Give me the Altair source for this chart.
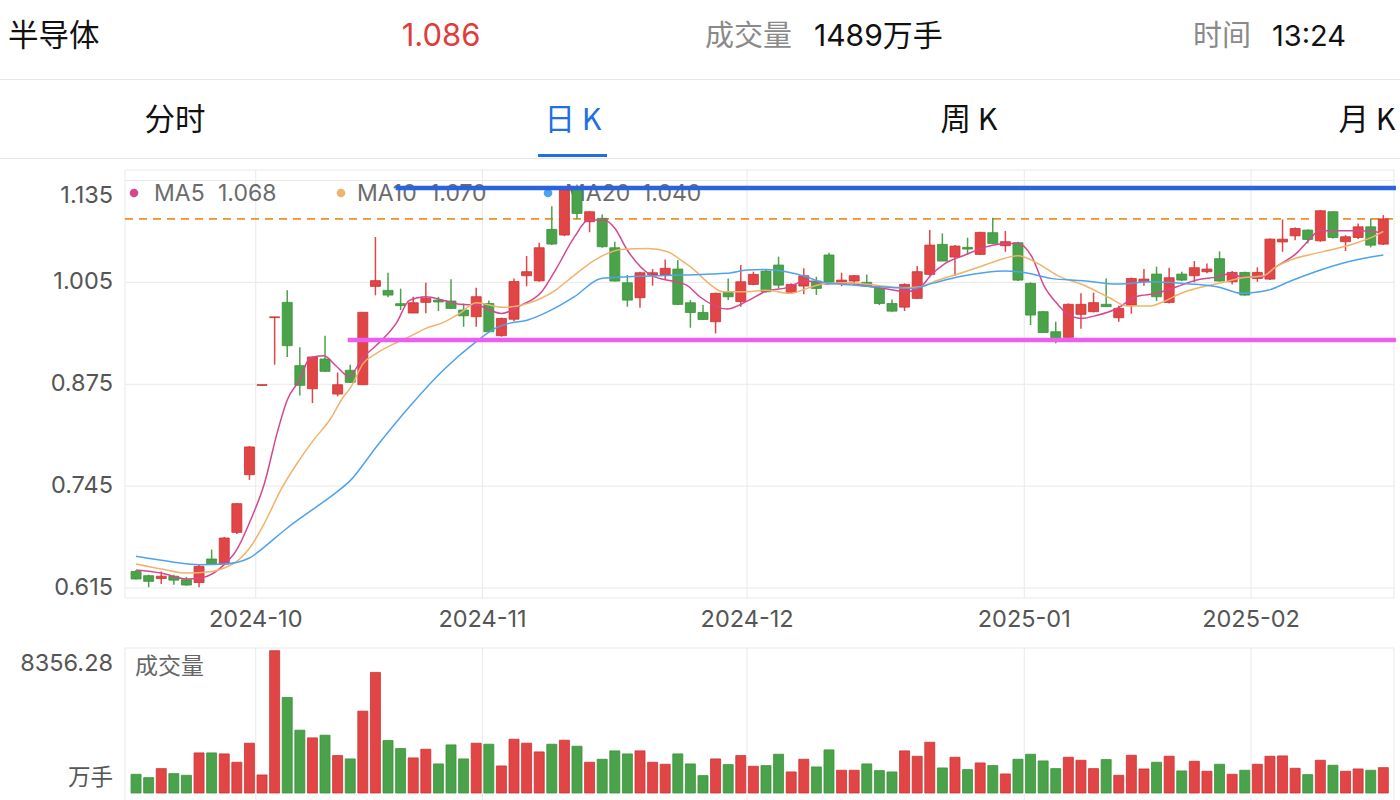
import altair as alt
import pandas as pd

# ---------------- data ----------------
opens = [0.636, 0.6307, 0.627, 0.630, 0.6256, 0.622, 0.652, 0.6456, 0.686, 0.7596,
         0.8735, 0.960, 0.9795, 0.8987, 0.8693, 0.9072, 0.8625, 0.8928, 0.8744, 0.9999,
         0.9948, 0.9778, 0.9659, 0.9795, 0.9823, 0.9812, 0.9697, 0.9612, 0.9781, 0.937,
         0.958, 1.0135, 1.007, 1.0726, 1.0654, 1.124, 1.0824, 1.0867, 1.0492, 1.0045,
         0.9854, 1.0144, 1.0144, 1.022, 0.979, 0.9666, 0.9548, 0.9921, 0.9804, 1.0024,
         1.0194, 1.0271, 0.992, 1.0003, 1.0067, 1.0399, 1.0037, 1.0067, 1.005, 0.9973,
         0.978, 0.9734, 0.9846, 1.0152, 1.0535, 1.0373, 1.0496, 1.0407, 1.0684, 1.0518,
         1.0556, 1.0037, 0.9676, 0.942, 0.9348, 0.9642, 0.9676, 0.977, 0.9599, 0.976,
         1.0058, 1.0156, 0.9794, 1.0156, 1.0135, 1.0186, 1.0352, 1.0058, 1.0177, 1.010,
         1.0092, 1.0566, 1.0644, 1.0717, 1.0581, 1.0951, 1.0569, 1.0623, 1.0759, 1.0538]
highs = [0.638, 0.632, 0.636, 0.632, 0.629, 0.645, 0.664, 0.680, 0.7235, 0.796,
         0.8745, 0.961, 0.9948, 0.9221, 0.9106, 0.937, 0.890, 0.900, 0.967, 1.0629,
         1.0173, 0.997, 0.9866, 1.0045, 0.9866, 1.009, 0.978, 0.998, 0.982, 0.960,
         1.010, 1.0386, 1.0556, 1.1023, 1.125, 1.130, 1.096, 1.0917, 1.0568, 1.0143,
         1.0186, 1.022, 1.0343, 1.0335, 0.9824, 0.976, 0.9919, 1.010, 1.0271, 1.0186,
         1.0216, 1.0378, 1.0037, 1.023, 1.0122, 1.0429, 1.0173, 1.0143, 1.0152, 1.0015,
         0.9833, 1.0037, 1.0259, 1.0718, 1.0675, 1.0526, 1.062, 1.0697, 1.0875, 1.0705,
         1.0569, 1.005, 0.9684, 0.9548, 0.9782, 0.991, 0.9918, 1.010, 0.9752, 1.011,
         1.022, 1.025, 1.0237, 1.0186, 1.0322, 1.0292, 1.0446, 1.0194, 1.0186, 1.0241,
         1.061, 1.0852, 1.0751, 1.0726, 1.0972, 1.096, 1.0653, 1.0802, 1.0866, 1.0908]
lows = [0.626, 0.616, 0.620, 0.619, 0.618, 0.616, 0.645, 0.645, 0.684, 0.753,
        0.8735, 0.900, 0.9098, 0.8608, 0.851, 0.8906, 0.8596, 0.8766, 0.874, 0.9885,
        0.9859, 0.9697, 0.9655, 0.9655, 0.9683, 0.971, 0.9483, 0.9483, 0.941, 0.9357,
        0.9555, 1.000, 1.0057, 1.0526, 1.064, 1.086, 1.069, 1.0492, 1.006, 0.9739,
        0.9727, 1.0008, 1.009, 0.976, 0.9471, 0.9576, 0.9399, 0.9824, 0.974, 1.0015,
        0.992, 0.9973, 0.9907, 0.9897, 0.9889, 1.004, 1.000, 1.0015, 0.9994, 0.976,
        0.9675, 0.9684, 0.9837, 1.0135, 1.0322, 1.0131, 1.0399, 1.0399, 1.0539, 1.0441,
        1.0067, 0.9506, 0.9407, 0.9272, 0.9344, 0.9459, 0.9667, 0.974, 0.9548, 0.965,
        1.0007, 0.9811, 0.9781, 1.0067, 1.005, 1.0165, 1.0058, 1.0024, 0.988, 1.0058,
        1.0079, 1.0441, 1.0589, 1.0547, 1.0568, 1.0611, 1.045, 1.0602, 1.0496, 1.0526]
closes = [0.6265, 0.6235, 0.630, 0.625, 0.6188, 0.6426, 0.6456, 0.6788, 0.7226, 0.795,
          0.8745, 0.961, 0.9242, 0.8736, 0.9098, 0.8915, 0.8744, 0.8774, 0.9668, 1.0072,
          0.9888, 0.9753, 0.979, 0.9846, 0.980, 0.9718, 0.9624, 0.9867, 0.942, 0.959,
          1.006, 1.0186, 1.0492, 1.0539, 1.1228, 1.093, 1.0951, 1.0505, 1.0067, 0.9824,
          1.0173, 1.0173, 1.0229, 0.9769, 0.9666, 0.9576, 0.991, 0.9866, 1.0058, 1.0152,
          0.993, 1.0015, 1.0024, 1.0135, 0.9973, 1.005, 1.0079, 1.0135, 1.0007, 0.978,
          0.9683, 1.0024, 1.0186, 1.0526, 1.0322, 1.0513, 1.0475, 1.0688, 1.0547, 1.0569,
          1.0079, 0.9633, 0.941, 0.9344, 0.977, 0.977, 0.9791, 0.974, 0.9718, 1.010,
          1.0092, 0.9867, 1.0109, 1.0079, 1.0237, 1.022, 1.0067, 1.0177, 0.9888, 1.0177,
          1.0602, 1.0601, 1.0738, 1.0598, 1.0964, 1.0623, 1.0632, 1.0759, 1.0525, 1.086]
volumes = [1098, 902, 1432, 1138, 1040, 2354, 2354, 2295, 1805, 2923,
           1059, 8356.28, 5610, 3688, 3236, 3393, 2197, 2001, 4806, 7081,
           3080, 2609, 2060, 2570, 1707, 2825, 2001, 2923, 2864, 1589,
           3158, 2923, 2413, 2864, 3099, 2746, 1805, 1981, 2472, 2295,
           2472, 1805, 1687, 2295, 1707, 1020, 2001, 1667, 2197, 1569,
           1608, 2275, 1236, 1981, 1530, 2530, 1334, 1334, 1707, 1314,
           1236, 2472, 2158, 2981, 1471, 2099, 1373, 1765, 1608, 1118,
           1981, 2275, 1883, 1432, 2099, 1922, 1432, 1962, 1040, 2216,
           1412, 1805, 2158, 1295, 1863, 1275, 1687, 1098, 1334, 1687,
           2158, 2177, 1452, 1079, 1922, 1628, 1275, 1412, 1334, 1489]

# moving averages (candle index, value)
ma5_t = [0, 2, 4, 5.2, 7, 8, 9.1, 10.2, 11.2, 12, 13, 13.8, 14.9, 15.9, 16.9, 18, 19.1,
         20.65, 21.7, 23, 24.4, 25.7, 27, 29, 30.6, 32.2, 33.3, 34.8, 35.9, 37.2, 38, 39,
         40.9, 42.7, 43.7, 44.8, 46.9, 48.5, 50, 51.6, 53.2, 54.8, 56.4, 57.9, 59.5, 61.1,
         62.1, 63.2, 64.2, 65.8, 67.4, 69, 70, 71.1, 72.1, 73.1, 73.9, 75, 76.3, 77.9, 79.4,
         81, 82.6, 84.2, 85.8, 86.8, 87.8, 89.4, 90.5, 92.1, 93.1, 93.9, 95.7, 97.3, 99]
ma5_v = [0.638, 0.634, 0.6265, 0.628, 0.6448, 0.664, 0.702, 0.749, 0.813, 0.855, 0.881,
         0.9085, 0.9114, 0.898, 0.885, 0.909, 0.925, 0.9526, 0.982, 0.9867, 0.982, 0.977,
         0.976, 0.9654, 0.976, 0.993, 1.021, 1.063, 1.0845, 1.0845, 1.074, 1.046, 1.014,
         1.006, 1.0016, 0.986, 0.971, 0.981, 0.9936, 0.998, 1.007, 1.003, 1.0046, 1.0003,
         0.997, 0.993, 0.997, 1.016, 1.029, 1.040, 1.050, 1.0547, 1.0547, 1.038, 0.9995,
         0.978, 0.965, 0.959, 0.963, 0.972, 0.987, 0.991, 0.9995, 1.008, 1.012, 1.016,
         1.012, 1.012, 1.025, 1.042, 1.059, 1.071, 1.071, 1.071, 1.068]
ma10_t = [0, 2, 4, 6, 7, 8, 9.1, 10.2, 11.5, 12.8, 14.1, 15.4, 16.46, 17, 18.03, 19.08,
          20.65, 21.7, 23, 24.4, 25.7, 27, 29.1, 31.1, 33.3, 34.8, 36.4, 38.5, 40.6, 42.2,
          43.2, 44.3, 45.3, 46.6, 48.5, 50, 51.9, 53.2, 54.8, 56.4, 57.9, 59.5, 61.1, 62.1,
          63.7, 65.3, 66.8, 68.4, 70, 71.6, 73.1, 75.2, 77.3, 78.6, 80.5, 81.5, 83.1, 84.7,
          86.3, 87.8, 89.4, 90.5, 92.1, 93.6, 95.2, 96.8, 98.3, 99]
ma10_v = [0.6456, 0.6392, 0.634, 0.636, 0.6405, 0.649, 0.668, 0.698, 0.7405, 0.7745,
          0.804, 0.830, 0.859, 0.870, 0.9017, 0.9144, 0.928, 0.9357, 0.9463, 0.954,
          0.9654, 0.979, 0.9731, 0.9782, 0.9952, 1.0143, 1.0334, 1.0471, 1.0483, 1.0441,
          1.034, 1.021, 1.006, 0.993, 0.993, 0.995, 0.991, 0.997, 1.004, 1.0046, 1.003,
          1.000, 0.998, 0.999, 1.008, 1.016, 1.024, 1.033, 1.039, 1.029, 1.014, 1.0016,
          0.985, 0.975, 0.975, 0.980, 0.992, 0.9995, 1.005, 1.011, 1.013, 1.025, 1.036,
          1.042, 1.048, 1.055, 1.064, 1.070]
ma20_t = [0, 3, 5, 7, 9, 10, 12, 14, 16, 17, 19.08, 21.7, 24.4, 27, 28.5, 29.6, 31.1,
          32.7, 34.8, 36.9, 38, 43.2, 46.9, 48.5, 50, 51.6, 53.2, 54.3, 55.8, 57.9, 60,
          61.6, 63.2, 65.3, 67.4, 69, 70.6, 72.6, 75.2, 77.9, 80.5, 83.1, 85.8, 87.8, 88.9,
          89.9, 91.5, 93.6, 96.2, 99]
ma20_v = [0.6554, 0.648, 0.6448, 0.6456, 0.6533, 0.665, 0.6916, 0.715, 0.7383, 0.752,
          0.7953, 0.8463, 0.8931, 0.9293, 0.9463, 0.9527, 0.957, 0.9676, 0.9867, 1.010,
          1.0113, 1.0143, 1.0165, 1.0207, 1.0215, 1.0186, 1.0122, 1.0058, 1.0028, 1.0003,
          0.9986, 0.9973, 1.0037, 1.0122, 1.0177, 1.0194, 1.0173, 1.0101, 1.0071, 1.0029,
          1.0058, 1.0037, 0.9995, 0.991, 0.9923, 0.9952, 1.0058, 1.0186, 1.0314, 1.040]

ma_names = ["MA5", "MA10", "MA20"]
ma_last = ["1.068", "1.070", "1.040"]

price_ticks = [0.615, 0.745, 0.875, 1.005, 1.135]
month_labels = ["2024-10", "2024-11", "2024-12", "2025-01", "2025-02"]
month_first_candle = [10, 28, 49, 71, 89]

last_price = 1.086
resistance = 1.1253   # blue drawn line
resistance_from = 20.6
support = 0.9314      # magenta drawn line
support_from = 16.8
vol_max_label = "8356.28"

# ---------------- style / layout ----------------
FONT = "Inter, 'Noto Sans CJK SC', sans-serif"
CJK = "'Noto Sans CJK SC', Inter, sans-serif"
RED, GREEN = "#e24545", "#4aa34a"
RED_D, GREEN_D = "#c93434", "#3a913a"
GRID = "#e9e9e9"
MA_COLORS = ["#d6478f", "#f0b36b", "#4da3ee"]

PX0, PX1 = 125, 1394
PY_TOP, PY_BOT = 170, 598
VY_TOP, VY_BOT = 648, 793

xs = alt.Scale(domain=[-0.48, 99.45], range=[PX0, PX1], nice=False, zero=False)
ps = alt.Scale(domain=[0.60224, 1.1484], range=[PY_BOT, PY_TOP], nice=False, zero=False)
vs = alt.Scale(domain=[0, 8515], range=[VY_BOT, VY_TOP], nice=False, zero=False)
dir_scale = alt.Scale(domain=["up", "down"], range=[RED, GREEN])
dir_stroke = alt.Scale(domain=["up", "down"], range=[RED_D, GREEN_D])

df = pd.DataFrame({"i": list(range(len(opens))), "open": opens, "high": highs,
                   "low": lows, "close": closes, "vol": volumes})
df["dir"] = ["up" if c >= o else "down" for o, c in zip(opens, closes)]

ma_frames = [
    pd.DataFrame({"t": ma5_t, "v": ma5_v}),
    pd.DataFrame({"t": ma10_t, "v": ma10_v}),
    pd.DataFrame({"t": ma20_t, "v": ma20_v}),
]

tick_df = pd.DataFrame({"p": price_ticks, "label": [f"{p:.3f}" for p in price_ticks]})
month_df = pd.DataFrame({"m": month_first_candle, "label": month_labels})

X = lambda f: alt.X(f, scale=xs, axis=None)
PY = lambda f: alt.Y(f, scale=ps, axis=None)
VY = lambda f: alt.Y(f, scale=vs, axis=None)

base = alt.Chart(df)
one = pd.DataFrame({"k": [0]})


def txt(s, x, y, size, color, align="left", font=FONT, baseline="middle", weight="normal"):
    return alt.Chart(pd.DataFrame({"s": [s]})).mark_text(
        align=align, baseline=baseline, fontSize=size, color=color, font=font,
        fontWeight=weight).encode(x=alt.value(x), y=alt.value(y), text="s:N")


def hline(x0, x1, y, color, width=1.0):
    return alt.Chart(one).mark_rule(color=color, strokeWidth=width).encode(
        x=alt.value(x0), x2=alt.value(x1), y=alt.value(y))


layers = []

# header
layers += [
    txt("半导体", 8, 37, 30.5, "#111111", font=CJK),
    txt("1.086", 441, 37, 31, "#e03c3c", align="center"),
    txt("成交量", 705, 37, 29, "#8a8a8a", font=CJK),
    txt("1489万手", 814, 37, 30, "#111111"),
    txt("时间", 1193, 37, 29, "#8a8a8a", font=CJK),
    txt("13:24", 1272, 37, 29, "#111111"),
    hline(0, 1400, 79.5, "#e6e6e6"),
    txt("分时", 175, 121, 30.5, "#111111", align="center", font=CJK),
    txt("日 K", 573, 121, 30.5, "#1f6fe5", align="center", font=CJK),
    txt("周 K", 969, 121, 30.5, "#111111", align="center", font=CJK),
    txt("月 K", 1367, 121, 30.5, "#111111", align="center", font=CJK),
    hline(538, 607, 155.5, "#1f6fe5", 3),
    hline(0, 1400, 158.5, "#e6e6e6"),
]

# price panel frame & grid
layers.append(alt.Chart(one).mark_rect(fill="white", stroke=GRID, strokeWidth=1).encode(
    x=alt.value(PX0), x2=alt.value(PX1), y=alt.value(PY_TOP), y2=alt.value(PY_BOT)))
layers.append(alt.Chart(tick_df).mark_rule(color=GRID, strokeWidth=1).encode(
    x=alt.value(PX0), x2=alt.value(PX1), y=PY("p:Q")))
layers.append(alt.Chart(month_df).transform_calculate(b="datum.m - 0.5").mark_rule(
    color=GRID, strokeWidth=1).encode(x=X("b:Q"), y=alt.value(PY_TOP), y2=alt.value(PY_BOT)))

# y labels
layers.append(alt.Chart(tick_df).transform_filter(f"datum.p < {max(price_ticks)}").mark_text(
    align="right", baseline="middle", fontSize=23.5, color="#555555", font=FONT).encode(
    x=alt.value(113), y=PY("p:Q"), text="label:N"))
layers.append(alt.Chart(tick_df).transform_filter(f"datum.p == {max(price_ticks)}").mark_text(
    align="right", baseline="top", dy=3, fontSize=23.5, color="#555555", font=FONT).encode(
    x=alt.value(113), y=PY("p:Q"), text="label:N"))
# x labels
layers.append(alt.Chart(month_df).transform_calculate(b="datum.m - 0.5").mark_text(
    align="center", baseline="middle", fontSize=23.5, color="#555555", font=FONT).encode(
    x=X("b:Q"), y=alt.value(620), text="label:N"))

# legend
leg_dot_x = [134, 341, 548]
leg_name_x = [154, 357, 565]
leg_val_x = [218, 430, 642]
for k in range(3):
    layers.append(alt.Chart(one).mark_point(filled=True, size=75, opacity=1,
                                            color=MA_COLORS[k]).encode(
        x=alt.value(leg_dot_x[k]), y=alt.value(193)))
    layers.append(txt(ma_names[k], leg_name_x[k], 194, 23, "#6b6b6b"))
    layers.append(txt(ma_last[k], leg_val_x[k], 194, 23, "#6b6b6b"))

# current price dashed line
layers.append(alt.Chart(pd.DataFrame({"p": [last_price]})).mark_rule(
    color="#ef8f2b", strokeWidth=1.6, strokeDash=[8, 6]).encode(
    x=alt.value(PX0), x2=alt.value(PX1), y=PY("p:Q")))

# candles
layers.append(base.mark_rule(strokeWidth=1.5).encode(
    x=X("i:Q"), y=PY("low:Q"), y2="high:Q",
    color=alt.Color("dir:N", scale=dir_scale, legend=None)))
layers.append(base.mark_bar(size=10, strokeWidth=0.8).encode(
    x=X("i:Q"), y=PY("open:Q"), y2="close:Q",
    color=alt.Color("dir:N", scale=dir_scale, legend=None),
    stroke=alt.Stroke("dir:N", scale=dir_stroke, legend=None)))

# moving averages
for k in range(3):
    layers.append(alt.Chart(ma_frames[k]).mark_line(
        strokeWidth=1.5, interpolate="monotone", color=MA_COLORS[k]).encode(
        x=X("t:Q"), y=PY("v:Q")))

# drawn support / resistance lines
layers.append(alt.Chart(pd.DataFrame({"p": [resistance], "a": [resistance_from], "b": [100.0]})).mark_rule(
    color="#2a62e0", strokeWidth=4.5).encode(x=X("a:Q"), x2="b:Q", y=PY("p:Q")))
layers.append(alt.Chart(pd.DataFrame({"p": [support], "a": [support_from], "b": [100.0]})).mark_rule(
    color="#ec5ef0", strokeWidth=4.5).encode(x=X("a:Q"), x2="b:Q", y=PY("p:Q")))

# volume panel
layers.append(hline(PX0, PX1, VY_TOP, GRID))
layers.append(alt.Chart(one).mark_rule(color=GRID).encode(
    x=alt.value(PX0), y=alt.value(VY_TOP), y2=alt.value(800)))
layers.append(alt.Chart(one).mark_rule(color=GRID).encode(
    x=alt.value(PX1), y=alt.value(VY_TOP), y2=alt.value(800)))
layers.append(alt.Chart(month_df).transform_calculate(b="datum.m - 0.5").mark_rule(
    color=GRID, strokeWidth=1).encode(x=X("b:Q"), y=alt.value(VY_TOP), y2=alt.value(800)))
layers.append(base.mark_bar(size=10, strokeWidth=0.8).encode(
    x=X("i:Q"), y=VY("vol:Q"),
    color=alt.Color("dir:N", scale=dir_scale, legend=None),
    stroke=alt.Stroke("dir:N", scale=dir_stroke, legend=None)))
layers += [
    txt(vol_max_label, 113, 664, 23.5, "#555555", align="right"),
    txt("万手", 113, 778, 22.5, "#555555", align="right", font=CJK),
    txt("成交量", 135, 667, 23, "#666666", font=CJK),
]

chart = alt.layer(*layers).resolve_scale(y="independent").properties(
    width=1400, height=800, padding=0, autosize=alt.AutoSizeParams(type="none"),
    background="white",
).configure_view(stroke=None)

chart.save("out.html", embed_options={"renderer": "svg", "actions": False})
